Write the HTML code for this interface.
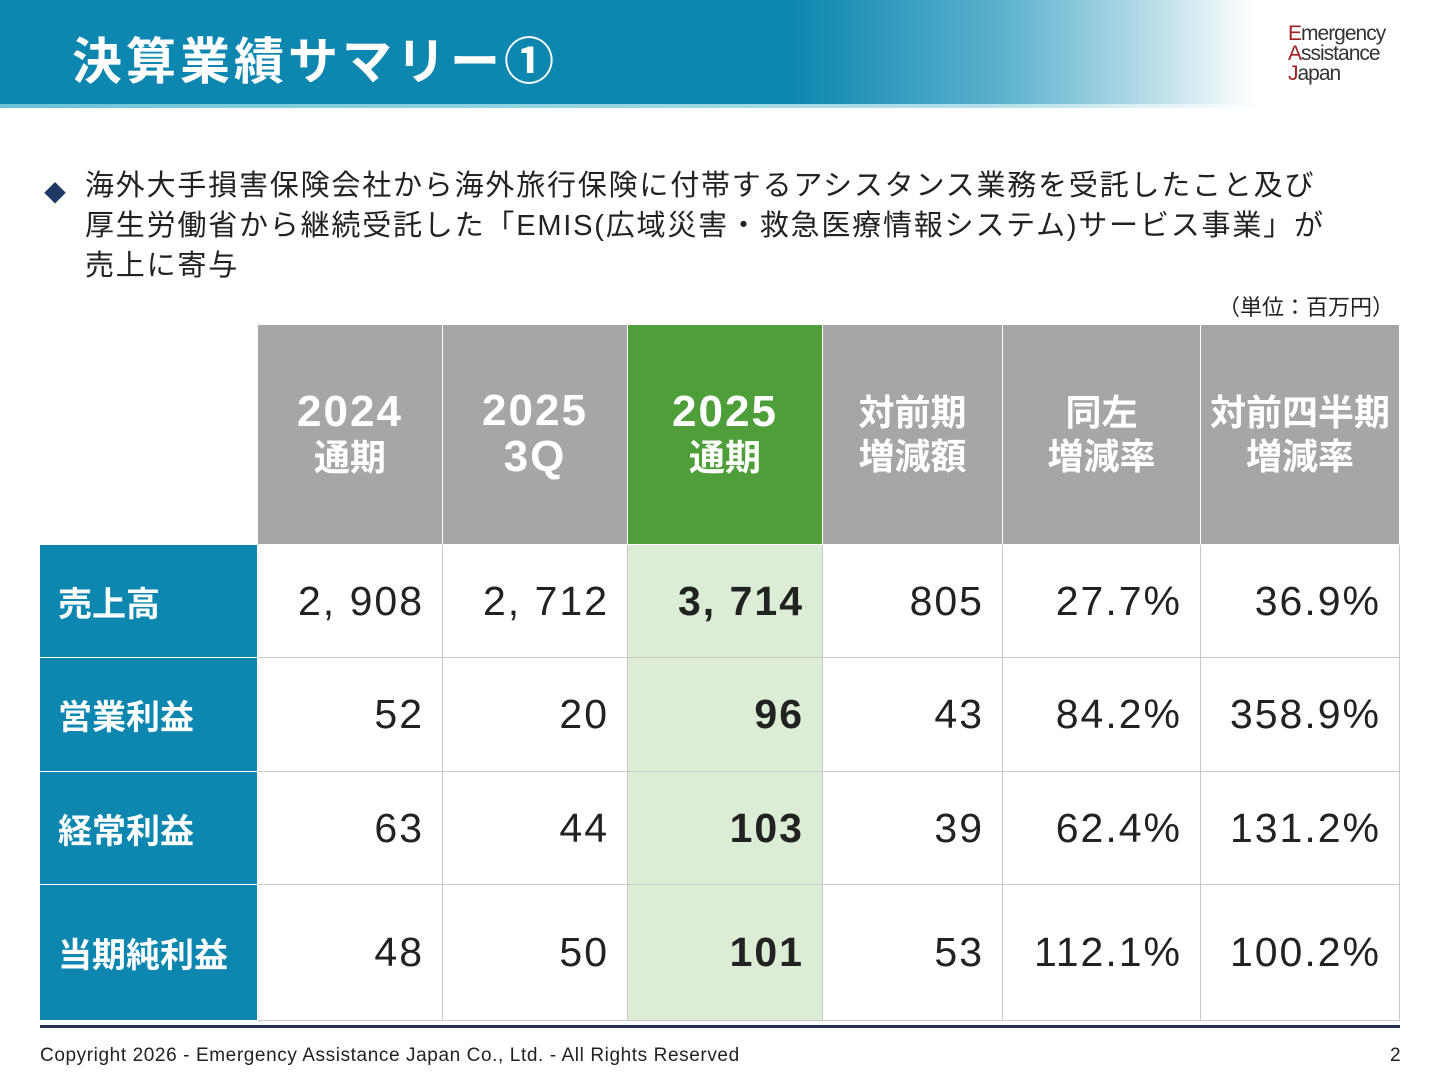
<!DOCTYPE html>
<html><head><meta charset="utf-8"><style>
*{margin:0;padding:0;box-sizing:border-box}
body{width:1440px;height:1080px;background:#fff;position:relative;overflow:hidden;font-family:"Liberation Sans","Noto Sans CJK JP",sans-serif;color:#222}
.hdr{position:absolute;left:0;top:0;width:1440px;height:107px;background:linear-gradient(90deg,#0d86b0 0%,#0d86b0 55%,#5fb3cf 70%,#b9dde9 80%,#fff 87%);}
.hdr2{position:absolute;left:0;top:104px;width:1260px;height:4px;background:linear-gradient(90deg,#6cc3d8,#b4e0ea 80%,#fff)}
.title{position:absolute;left:72px;top:22px;font-size:50px;font-weight:bold;color:#fff;letter-spacing:4px}
.logo{position:absolute;left:1288px;top:24px;font-size:21px;line-height:20px;color:#333;letter-spacing:-1px}
.logo b{color:#a02020;font-weight:normal}
.txt{position:absolute;left:85px;top:166px;font-size:29px;line-height:40px;color:#222;letter-spacing:1.8px;white-space:nowrap}
.dia{position:absolute;left:44px;top:176px;font-size:22px;color:#1f3864}
.unit{position:absolute;left:1218px;top:290px;font-size:22px}
.c{position:absolute;display:flex;align-items:center;justify-content:center;text-align:center;border-right:1px solid #c8c8c8;border-bottom:1px solid #c8c8c8}
.h{background:#a6a6a6;color:#fff;font-weight:bold;font-size:36px;line-height:44px;border-color:#fff}
.h .y{font-size:44px;letter-spacing:2px}
.h.g{background:#4e9e3a}
.l{background:#0d86b0;color:#fff;font-weight:bold;font-size:34px;justify-content:flex-start;padding-left:18px;border-color:#fff}
.v{font-size:41px;justify-content:flex-end;padding-right:18px;letter-spacing:2px}
.gr{background:#dbeed5;font-weight:bold}
.foot{position:absolute;left:40px;top:1045px;font-size:19px;color:#222;letter-spacing:0.6px}
</style></head><body>
<div class="hdr"></div><div class="hdr2"></div>
<div class="title">決算業績サマリー①</div>
<div class="logo"><b>E</b>mergency<br><b>A</b>ssistance<br><b>J</b>apan</div>
<div class="dia">◆</div>
<div class="txt">海外大手損害保険会社から海外旅行保険に付帯するアシスタンス業務を受託したこと及び<br>厚生労働省から継続受託した「EMIS(広域災害・救急医療情報システム)サービス事業」が<br>売上に寄与</div>
<div class="unit">（単位：百万円）</div>

<div class="c h" style="left:258px;top:325px;width:185px;height:220px"><div><span class="y">2024</span><br>通期</div></div>
<div class="c h" style="left:443px;top:325px;width:185px;height:220px"><div><span class="y">2025</span><br><span class="y">3Q</span></div></div>
<div class="c h g" style="left:628px;top:325px;width:195px;height:220px"><div><span class="y">2025</span><br>通期</div></div>
<div class="c h" style="left:823px;top:325px;width:180px;height:220px">対前期<br>増減額</div>
<div class="c h" style="left:1003px;top:325px;width:198px;height:220px">同左<br>増減率</div>
<div class="c h" style="left:1201px;top:325px;width:199px;height:220px">対前四半期<br>増減率</div>

<div class="c l" style="left:40px;top:545px;width:218px;height:113px">売上高</div>
<div class="c v" style="left:258px;top:545px;width:185px;height:113px">2, 908</div>
<div class="c v" style="left:443px;top:545px;width:185px;height:113px">2, 712</div>
<div class="c v gr" style="left:628px;top:545px;width:195px;height:113px">3, 714</div>
<div class="c v" style="left:823px;top:545px;width:180px;height:113px">805</div>
<div class="c v" style="left:1003px;top:545px;width:198px;height:113px">27.7%</div>
<div class="c v" style="left:1201px;top:545px;width:199px;height:113px">36.9%</div>

<div class="c l" style="left:40px;top:658px;width:218px;height:114px">営業利益</div>
<div class="c v" style="left:258px;top:658px;width:185px;height:114px">52</div>
<div class="c v" style="left:443px;top:658px;width:185px;height:114px">20</div>
<div class="c v gr" style="left:628px;top:658px;width:195px;height:114px">96</div>
<div class="c v" style="left:823px;top:658px;width:180px;height:114px">43</div>
<div class="c v" style="left:1003px;top:658px;width:198px;height:114px">84.2%</div>
<div class="c v" style="left:1201px;top:658px;width:199px;height:114px">358.9%</div>

<div class="c l" style="left:40px;top:772px;width:218px;height:113px">経常利益</div>
<div class="c v" style="left:258px;top:772px;width:185px;height:113px">63</div>
<div class="c v" style="left:443px;top:772px;width:185px;height:113px">44</div>
<div class="c v gr" style="left:628px;top:772px;width:195px;height:113px">103</div>
<div class="c v" style="left:823px;top:772px;width:180px;height:113px">39</div>
<div class="c v" style="left:1003px;top:772px;width:198px;height:113px">62.4%</div>
<div class="c v" style="left:1201px;top:772px;width:199px;height:113px">131.2%</div>

<div class="c l" style="left:40px;top:885px;width:218px;height:136px">当期純利益</div>
<div class="c v" style="left:258px;top:885px;width:185px;height:136px">48</div>
<div class="c v" style="left:443px;top:885px;width:185px;height:136px">50</div>
<div class="c v gr" style="left:628px;top:885px;width:195px;height:136px">101</div>
<div class="c v" style="left:823px;top:885px;width:180px;height:136px">53</div>
<div class="c v" style="left:1003px;top:885px;width:198px;height:136px">112.1%</div>
<div class="c v" style="left:1201px;top:885px;width:199px;height:136px">100.2%</div>

<div style="position:absolute;left:40px;top:1025px;width:1360px;height:3px;background:#1f3450"></div>
<div class="foot">Copyright 2026 - Emergency Assistance Japan Co., Ltd. - All Rights Reserved</div>
<div class="foot" style="left:1390px">2</div>
</body></html>
